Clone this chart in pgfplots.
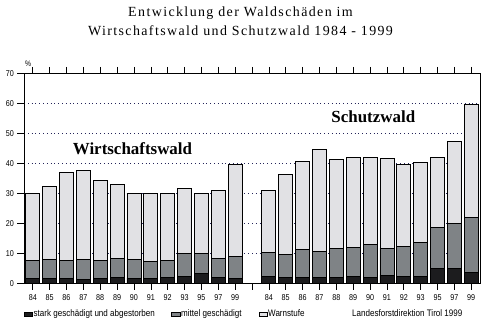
\documentclass[border=0pt]{standalone}
\usepackage{pgfplots}
\pgfplotsset{compat=1.18}
\usepackage{pgfplotstable}
\usepackage{fontspec}
\setmainfont{Liberation Serif}
\newfontfamily\titlefont[LetterSpace=10]{Liberation Serif}
\newfontfamily\sansc[FakeStretch=0.85]{Liberation Sans}
\definecolor{cdark}{HTML}{1C1C1E}
\definecolor{cmid}{HTML}{7F8386}
\definecolor{clight}{HTML}{E1E1E4}
\definecolor{cgrid}{HTML}{25255A}

% Wirtschaftswald: x 0..12, Schutzwald: x 14..26
\pgfplotstableread{
x dark mid light
0  1.7 6.0 22.3
1  1.7 6.3 24.3
2  1.7 6.0 29.3
3  1.3 6.7 29.7
4  1.7 6.0 26.6
5  2.0 6.3 24.7
6  1.7 6.3 22.0
7  1.7 5.6 22.7
8  2.0 5.7 22.3
9  2.3 7.7 21.7
10 3.3 6.7 20.0
11 2.0 6.3 22.7
12 1.7 7.3 30.7
14 2.3 8.0 20.7
15 2.0 7.7 26.6
16 2.0 9.3 29.4
17 2.0 8.7 34.0
18 2.0 9.7 29.6
19 2.3 9.7 30.0
20 2.0 11.0 29.0
21 2.7 9.0 30.0
22 2.3 10.0 27.4
23 2.3 11.4 26.6
24 5.0 13.7 23.3
25 5.0 15.0 27.3
26 3.7 18.3 37.7
}\waldtable

\begin{document}
\begin{tikzpicture}[x=1bp,y=1bp]
\path[use as bounding box] (0,0) rectangle (481,321);
\begin{axis}[
  at={(24bp,37.7bp)}, anchor=south west,
  scale only axis, width=456bp, height=210bp,
  xmin=-0.52, xmax=26.52, ymin=0, ymax=70,
  ybar stacked, bar width=0.83, bar shift=0pt,
  xtick={0,...,26},
  xticklabels={84,85,86,87,88,89,90,91,92,93,95,97,99,,84,85,86,87,88,89,90,91,92,93,95,97,99},
  ytick={0,10,...,70},
  tick align=outside, major tick length=6.5bp,
  tick style={black, line width=0.6pt},
  ymajorgrids,
  grid style={cgrid, line width=0.7pt, dash pattern=on 0.8bp off 3bp},
  axis line style={black, line width=0.8pt},
  /pgf/number format/assume math mode=true,
  tick label style={font=\sansc\fontsize{8.5}{9}\selectfont},
  xticklabel style={yshift=-1bp},
  every axis plot/.append style={draw=black, line width=0.8pt},
]
\addplot[fill=cdark] table[x=x,y=dark] {\waldtable};
\addplot[fill=cmid] table[x=x,y=mid] {\waldtable};
\addplot[fill=clight] table[x=x,y=light] {\waldtable};
\end{axis}
% titles
\node[anchor=base, inner sep=0] at (240.5,305) {\titlefont\fontsize{14}{16}\selectfont Entwicklung der Waldschäden im};
\node[anchor=base, inner sep=0] at (240.5,285.7) {\titlefont\fontsize{14}{16}\selectfont Wirtschaftswald und Schutzwald 1984 - 1999};
\node[anchor=base, inner sep=0] at (132.5,167) {\bfseries\fontsize{17}{19}\selectfont Wirtschaftswald};
\node[anchor=base, inner sep=0] at (373.3,198.3) {\bfseries\fontsize{17}{19}\selectfont Schutzwald};
\node[anchor=base west, inner sep=0] at (25,255) {\sansc\fontsize{8}{9}\selectfont \%};
% legend
\filldraw[fill=cdark, draw=black, line width=0.5pt] (24,4.5) rectangle (32.5,8.5);
\node[anchor=base west, inner sep=0] at (33.5,5) {\sansc\fontsize{9.5}{10}\selectfont stark geschädigt und abgestorben};
\filldraw[fill=cmid, draw=black, line width=0.5pt] (171,4.5) rectangle (180,8.5);
\node[anchor=base west, inner sep=0] at (181,5) {\sansc\fontsize{9.5}{10}\selectfont mittel geschädigt};
\filldraw[fill=clight, draw=black, line width=0.5pt] (259,4.5) rectangle (267.5,8.5);
\node[anchor=base west, inner sep=0] at (268,5) {\sansc\fontsize{9.5}{10}\selectfont Warnstufe};
\node[anchor=base west, inner sep=0] at (352,5) {\sansc\fontsize{9.5}{10}\selectfont Landesforstdirektion Tirol 1999};
\end{tikzpicture}
\end{document}
